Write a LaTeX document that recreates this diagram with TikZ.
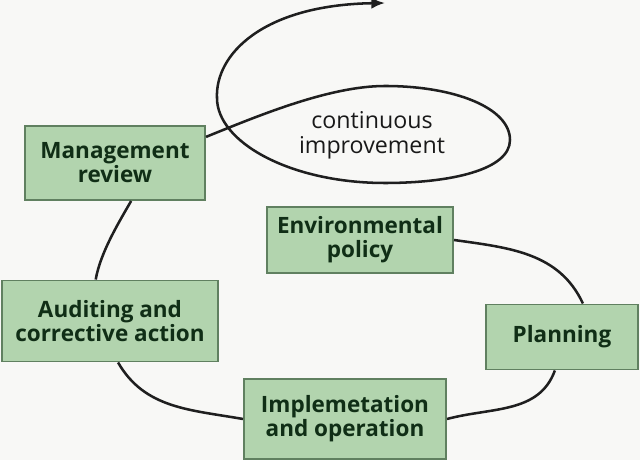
\documentclass[tikz,border=0pt]{standalone}
\usepackage{fontspec}
\setmainfont{Open Sans}
\usetikzlibrary{arrows.meta}
\definecolor{isoFill}{RGB}{178,212,174}
\definecolor{isoEdge}{RGB}{96,128,96}
\definecolor{isoText}{RGB}{16,46,22}
\definecolor{isoPaper}{RGB}{248,248,246}

\begin{document}
\begin{tikzpicture}[
  x=0.025cm, y=0.025cm,
  every node/.style={font=\fontsize{16}{17}\selectfont},
  stagebox/.style={draw=isoEdge,fill=isoFill,line width=1.4pt,align=center,text=isoText,font=\fontsize{16}{17}\selectfont\bfseries},
  link/.style={line width=1.8pt,draw=black!88},
  loopnote/.style={align=center,text=black!90,font=\fontsize{16.5}{17.5}\selectfont}
]
  \fill[isoPaper] (0,0) rectangle (640,460);
  \useasboundingbox (0,0) rectangle (640,460);

  \node[stagebox,minimum width=4.5cm,minimum height=1.85cm]   (mgmt)  at (115,297) {Management\\review};
  \node[stagebox,minimum width=4.65cm,minimum height=1.65cm]  (env)   at (360,220) {Environmental\\policy};
  \node[stagebox,minimum width=5.4cm,minimum height=2.025cm]  (audit) at (110,139) {Auditing and\\corrective action};
  \node[stagebox,minimum width=3.8cm,minimum height=1.625cm]  (plan)  at (562,123) {Planning};
  \node[stagebox,minimum width=5.05cm,minimum height=2.0cm]   (impl)  at (345,41)  {Implemetation\\and operation};
  \node[loopnote] (cont) at (372,325) {continuous\\improvement};

  \draw[link] (env.east) to[out=-8,in=115] (plan.58);
  \draw[link] (plan.-102) to[out=-110,in=15] (impl.east);
  \draw[link] (impl.west) to[out=170,in=-60] (audit.-79);
  \draw[link] (audit.109) to[out=80,in=-120,looseness=0.8] (mgmt.-67);

  \coordinate (onward) at (385,457);
  \draw[link,-{Latex[length=3.4mm,width=2.8mm]}] (mgmt.16)
    .. controls (260,345) and (330,374) .. (385,374)
    .. controls (455,374) and (510,352) .. (510,320)
    .. controls (510,290) and (450,277) .. (385,277)
    .. controls (290,277) and (217,318) .. (217,362)
    .. controls (215,405) and (262,455) .. (onward);
\end{tikzpicture}
\end{document}
